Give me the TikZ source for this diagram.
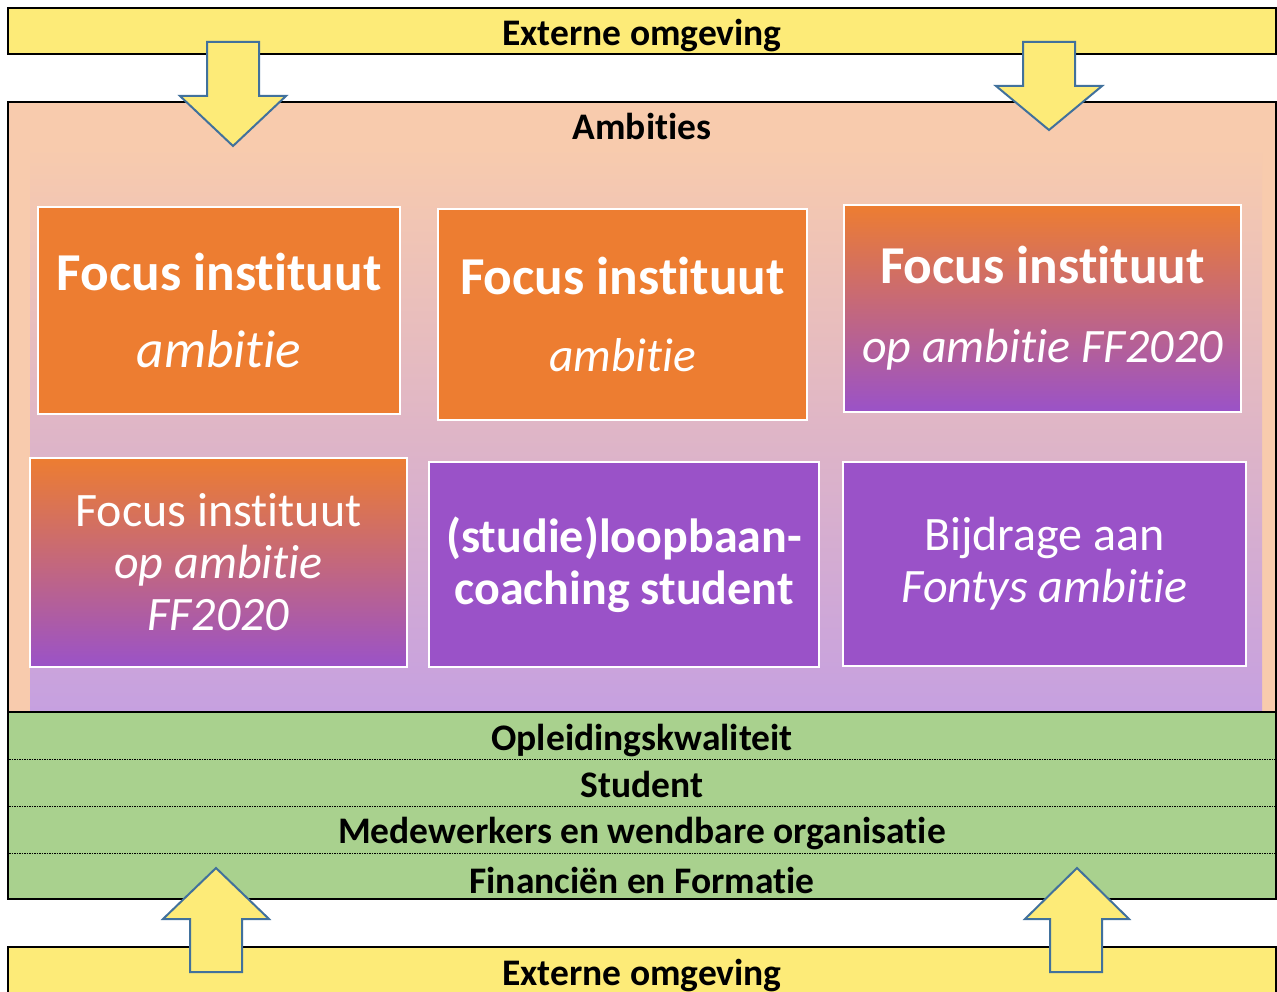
\documentclass[tikz,border=0pt]{standalone}
\usepackage{fontspec}
\setmainfont{Carlito}[Ligatures = {NoCommon, NoRare, NoContextual}, Contextuals = NoAlternate]
\usetikzlibrary{positioning}
\definecolor{barYellow}{HTML}{FDEB78}
\definecolor{ambPeach}{HTML}{F8CBAD}
\definecolor{ambLavender}{HTML}{C6A0E0}
\definecolor{cardOrange}{HTML}{ED7D31}
\definecolor{cardPurple}{HTML}{9A52C8}
\definecolor{layerGreen}{HTML}{A9D18E}
\definecolor{arrowBlue}{HTML}{41719C}
\tikzset{
  card/.style = {draw = white, line width = 2pt, text = white, align = center, inner sep = 0pt},
  bigtext/.style = {font = \fontsize{53.3}{63}\selectfont},
  midtext/.style = {font = \fontsize{48}{52}\selectfont},
  bartext/.style = {font = \fontsize{37.5}{44}\selectfont\bfseries},
  blockarrow/.style = {fill = barYellow, draw = arrowBlue, line width = 2pt, line join = miter}
}
\begin{document}
\begin{tikzpicture}[x = 1pt, y = -1pt]
\useasboundingbox (0,0) rectangle (1277,992);
% externe omgeving, boven en onder
\draw [fill = barYellow, draw = black, line width = 2.5pt] (8,8) rectangle (1276,54);
\node [bartext] (topbar) at (642,35.5) {Externe omgeving};
\draw [fill = barYellow, draw = black, line width = 2.5pt] (8,947) rectangle (1276,1010);
\node [bartext] (bottombar) at (642,975.5) {Externe omgeving};
% ambities
\draw [fill = ambPeach, draw = black, line width = 2.5pt] (8,102) rectangle (1276,712);
\shade [top color = ambPeach, bottom color = ambLavender] (30,146) rectangle (1262,712);
\node [bartext] (ambities) at (642,126) {Ambities};
\node [card, bigtext, fill = cardOrange, minimum width = 362pt, minimum height = 207pt] (focusA) at (219,310.5)
  {\textbf{Focus instituut}\\[14pt]\textit{ambitie}};
\node [card, bigtext, fill = cardOrange, minimum width = 369pt, minimum height = 211pt] (focusB) at (622.5,314.5)
  {\textbf{Focus instituut}\\[14pt]{\fontsize{47.5}{52}\selectfont\itshape ambitie}};
\node [card, bigtext, top color = cardOrange, bottom color = cardPurple, minimum width = 397pt, minimum height = 207pt] (focusC) at (1042.5,308.5)
  {\textbf{Focus instituut}\\[16pt]{\fontsize{48}{52}\selectfont\itshape op ambitie FF2020}};
\node [card, midtext, top color = cardOrange, bottom color = cardPurple, minimum width = 377pt, minimum height = 209pt] (focusD) at (218.5,562.5)
  {Focus instituut\\\textit{op ambitie}\\\textit{FF2020}};
\node [card, midtext, fill = cardPurple, minimum width = 390pt, minimum height = 205pt] (coaching) at (624,564.5)
  {\textbf{(studie)loopbaan-}\\\textbf{coaching student}};
\node [card, midtext, fill = cardPurple, minimum width = 403pt, minimum height = 204pt] (bijdrage) at (1044.5,564)
  {Bijdrage aan\\\textit{Fontys ambitie}};
% lagen
\draw [fill = layerGreen, draw = black, line width = 2.5pt] (8,712) rectangle (1276,899);
\foreach \y in {712,759,806,853} \draw [dash pattern = on 1.5pt off 1pt, line width = 0.9pt] (9,\y) -- (1275,\y);
\node [bartext] (kwaliteit) at (642,740.5) {Opleidingskwaliteit};
\node [bartext] (student) at (642,784) {Student};
\node [bartext] (medewerkers) at (642,834) {Medewerkers en wendbare organisatie};
\node [bartext] (financien) at (642,880) {Financiën en Formatie};
% pijlen
\draw [blockarrow] (207,42) -- (259,42) -- (259,96) -- (286,96) -- (233,146) -- (180,96) -- (207,96) -- cycle;
\draw [blockarrow] (1023,42) -- (1075,42) -- (1075,86) -- (1102,86) -- (1049,130) -- (996,86) -- (1023,86) -- cycle;
\draw [blockarrow] (190,972) -- (242,972) -- (242,919) -- (269,919) -- (216,868) -- (163,919) -- (190,919) -- cycle;
\draw [blockarrow] (1050,972) -- (1102,972) -- (1102,919) -- (1129,919) -- (1077,868) -- (1025,919) -- (1050,919) -- cycle;
\end{tikzpicture}
\end{document}
